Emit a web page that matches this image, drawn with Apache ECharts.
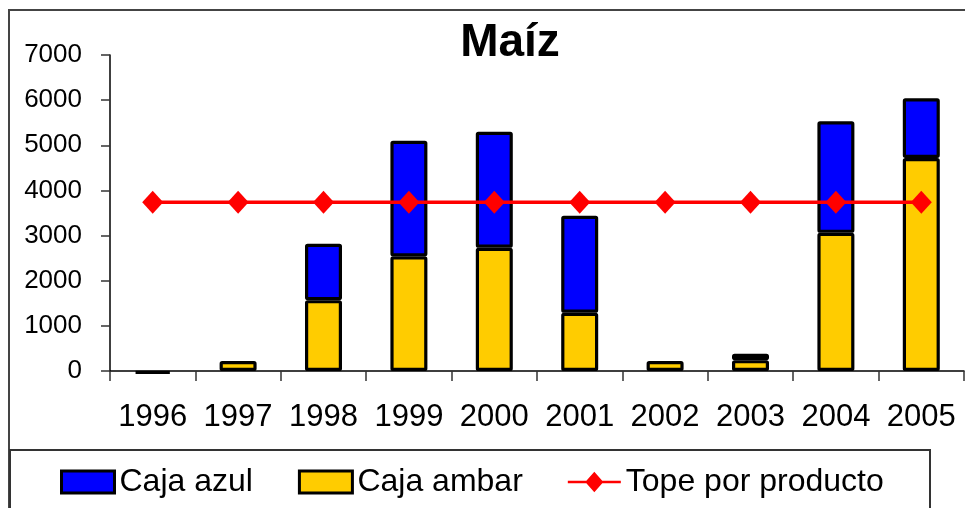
<!DOCTYPE html>
<html>
<head>
<meta charset="utf-8">
<script src="https://cdn.jsdelivr.net/npm/echarts@6/dist/echarts.min.js"></script>
<style>
html,body{margin:0;padding:0;background:#fff;}
#chart{width:965px;height:508px;}
</style>
</head>
<body>
<div id="chart"></div>
<script>
const years = ['1996','1997','1998','1999','2000','2001','2002','2003','2004','2005'];
const cajaAmbar = [-60, 220, 1570, 2540, 2730, 1290, 220, 240, 3060, 4720];
const cajaAzul = [null, null, 1250, 2560, 2570, 2150, null, 140, 2470, 1320];
const tope = [3740, 3740, 3740, 3740, 3740, 3740, 3740, 3740, 3740, 3740];
const yTicks = [0, 1000, 2000, 3000, 4000, 5000, 6000, 7000];

const FONT = '"Liberation Sans", Arial, sans-serif';
const lineIcon = 'path://M0,10 L21,10 L30,0 L39,10 L60,10 L60,13 L39,13 L30,23 L21,13 L0,13 Z';
const chart = echarts.init(document.getElementById('chart'), null, {renderer: 'canvas'});
chart.setOption({
  animation: false,
  backgroundColor: '#fff',
  textStyle: {fontFamily: FONT, color: '#000'},
  title: {
    text: 'Maíz', left: 505, top: 15, textAlign: 'center',
    textStyle: {fontFamily: FONT, fontSize: 46, fontWeight: 'bold', color: '#000'}
  },
  graphic: [
    {type: 'rect', shape: {x: 9, y: 10, width: 970, height: 520}, style: {fill: 'none', stroke: '#444', lineWidth: 2}, z: -1, silent: true},
    {type: 'rect', shape: {x: 10, y: 450, width: 920, height: 70}, style: {fill: '#fff', stroke: '#333', lineWidth: 2}, z: 0, silent: true}
  ],
  legend: {
    left: 60, top: 466, padding: 0, itemGap: 45, itemWidth: 53, itemHeight: 22, z: 5,
    data: [
      {name: 'Caja azul', icon: 'rect', itemStyle: {borderColor: '#000', borderWidth: 3}},
      {name: 'Caja ambar', icon: 'rect', itemStyle: {borderColor: '#000', borderWidth: 3}},
      {name: 'Tope por producto', icon: lineIcon, itemStyle: {color: '#FF0000', borderWidth: 0}}
    ],
    textStyle: {fontFamily: FONT, fontSize: 32, color: '#000'}
  },
  grid: {left: 110, right: 1, top: 55, bottom: 137, containLabel: false},
  xAxis: {
    type: 'category', data: years,
    axisLine: {lineStyle: {color: '#000', width: 1.5}},
    axisTick: {show: true, inside: false, length: 10, interval: 0, lineStyle: {color: '#333', width: 1.5}},
    axisLabel: {fontFamily: FONT, fontSize: 31, color: '#000', margin: 31, interval: 0}
  },
  yAxis: {
    type: 'value', min: yTicks[0], max: yTicks[yTicks.length-1], interval: 1000,
    axisLine: {show: true, lineStyle: {color: '#000', width: 1.5}},
    axisTick: {show: true, inside: false, length: 9, lineStyle: {color: '#333', width: 1.5}},
    splitLine: {show: false},
    axisLabel: {fontFamily: FONT, fontSize: 26, color: '#000', margin: 28, formatter: v => String(v)}
  },
  series: [
    {
      name: 'Caja ambar', type: 'bar', stack: 'total', data: cajaAmbar, barWidth: 37, clip: false,
      itemStyle: {color: '#FFCC00', borderColor: '#000', borderWidth: 3.2, borderRadius: 1}
    },
    {
      name: 'Caja azul', type: 'bar', stack: 'total', data: cajaAzul, barWidth: 37, clip: false,
      itemStyle: {color: '#0000FF', borderColor: '#000', borderWidth: 3.2, borderRadius: 1}
    },
    {
      name: 'Tope por producto', type: 'line', data: tope, z: 10,
      symbol: 'diamond', symbolSize: [21, 23],
      lineStyle: {color: '#FF0000', width: 3.5},
      itemStyle: {color: '#FF0000'}
    }
  ]
});
</script>
</body>
</html>
